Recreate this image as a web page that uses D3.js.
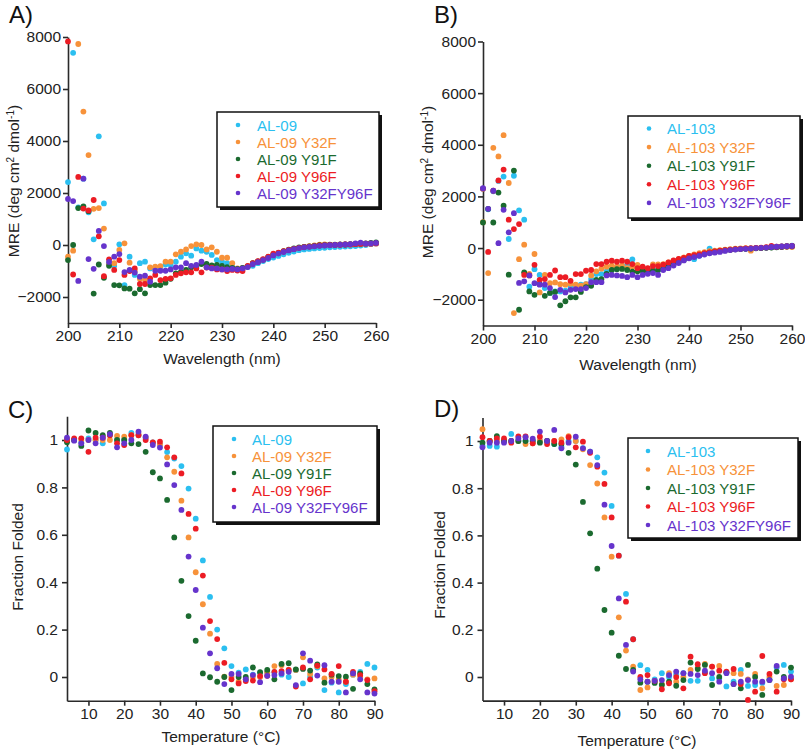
<!DOCTYPE html>
<html><head><meta charset="utf-8">
<script src="https://cdn.jsdelivr.net/npm/d3@7"></script>
<style>
html,body{margin:0;padding:0;background:#fff;}
svg{display:block;font-family:"Liberation Sans",Arial,sans-serif;}
</style></head>
<body><svg id="chart" width="805" height="751"></svg>
<script>
// ---------- DATA ----------
const wavelengths = d3.range(200, 261, 1);
const temperatures = d3.range(4, 91, 2);
const namesA = ["AL-09", "AL-09 Y32F", "AL-09 Y91F", "AL-09 Y96F", "AL-09 Y32FY96F"];
const namesB = ["AL-103", "AL-103 Y32F", "AL-103 Y91F", "AL-103 Y96F", "AL-103 Y32FY96F"];
const colors = ["#2bbff0", "#f7923a", "#1b6a2f", "#ec1c24", "#6634cc"];
const mreTicks = [-2000, 0, 2000, 4000, 6000, 8000];
const wlTicks = [200, 210, 220, 230, 240, 250, 260];
const ffTicks = [0, 0.2, 0.4, 0.6, 0.8, 1];
const tempTicks = [10, 20, 30, 40, 50, 60, 70, 80, 90];

// Panel A: CD spectra AL-09 variants (MRE)
const A_wt = [2420,7390,1450,2550,1260,220,4180,1600, -700,-800,25,-1540,-450,-1150,-700,-640,-900,-870, -850,-750,-770,-640,-450,-320,-410,-130,-220,-260, -380,-580,-640,-700,-850,-940,-900,-850,-800,-700, -620,-540,-480,-420,-360,-300,-250,-200,-170,-150, -130,-120,-110,-90,-80,-70,-60,-50,-40,-20, 0,30,60];
const A_y32f = [-450,-220,7730,5130,3460,1390,1420,630, -750,-700,-190,64,-680,-1000,-1300,-1350,-860,-830, -810,-640,-640,-360,-260,-170,-40,25,0,-170, -90,-260,-490,-490,-700,-900,-880,-820,-720,-640, -570,-480,-380,-320,-260,-200,-150,-110,-70,-40, -20,10,20,0,0,10,20,20,30,40, 40,50,60];
const A_y91f = [-580,0,1420,1480,1300,-1870,-750,-1260, -800,-1540,-1550,-1670,-1680,-1860,-1700,-1860,-1540,-1540, -1540,-1450,-1300,-1090,-1030,-960,-860,-830,-730,-730, -780,-770,-800,-850,-880,-920,-880,-820,-700,-630, -560,-470,-360,-300,-240,-180,-130,-90,-70,-50, -30,-10,0,10,10,20,20,30,40,50, 60,80,100];
const A_y96f = [7830,-1135,2620,1400,1330,1730,335,-1200, -550,-960,-580,-1150,-1000,-900,-1500,-1500,-1280,-1150, -1350,-1300,-1280,-1150,-1090,-1050,-1050,-900,-1050,-870, -870,-940,-940,-1000,-960,-980,-1000,-800,-700,-620, -540,-450,-330,-290,-240,-190,-150,-110,-80,-60, -40,-20,-10,0,0,10,20,20,30,40, 50,50,60];
const A_y32fy96f = [1770,1690,-1380,2550,-540,-915,540,-40, -650,-450,-350,-1040,-960,-1060,-1220,-1180,-1410,-990, -990,-990,-940,-860,-860,-700,-800,-770,-640,-860, -900,-900,-940,-940,-920,-940,-900,-850,-740,-660, -580,-500,-400,-330,-270,-210,-160,-120,-90,-70, -50,-30,-20,-10,0,10,20,30,60,90, 50,60,80];

// Panel B: CD spectra AL-103 variants (MRE)
const B_wt = [2300,1500,2200,2600,2770,350,2800,1460, 1100,-1500,-820,-1040,-1550,-1740,-1680,-1680,-1650,-1500, -1460,-1420,-1400,-1200,-1010,-1010,-900,-850,-750,-700, -650,-440,-700,-800,-850,-900,-850,-800,-720,-620, -520,-420,-350,-430,-300,-200,-20,-150,-120,-80, -60,-40,-30,-20,-10,0,10,20,30,40, 60,80,90];
const B_y32f = [1000,-970,3880,3550,4370,2520,-2520,-430, 130,-1000,-230,-1720,-1040,-1360,-1330,-1400,-1420,-1380, -1420,-1460,-1400,-1060,-900,-800,-720,-680,-720,-680, -780,-720,-650,-750,-800,-630,-630,-620,-560,-500, -430,-360,-300,-250,-200,-160,-120,-100,-80,-60, -40,-20,-10,0,-100,0,10,20,30,40, 50,50,40];
const B_y91f = [990,1520,990,2150,1640,-1030,3000,-2390, -940,-1680,-1810,-1400,-1850,-1740,-1700,-2220,-2060,-1910, -1910,-1700,-1510,-1460,-1230,-1200,-1000,-850,-820,-810, -850,-910,-900,-880,-900,-880,-850,-780,-700,-620, -540,-450,-380,-320,-270,-220,-180,-140,-110,-90, -70,-50,-40,-30,-20,-10,0,10,20,30, 40,60,70];
const B_y96f = [2300,-150,2220,2620,3040,1100,735,930, -1040,-1060,-650,-1230,-1200,-1040,-870,-1130,-1130,-1270, -1010,-1010,-880,-850,-620,-620,-530,-490,-530,-490, -530,-620,-780,-720,-780,-700,-700,-640,-560,-480, -420,-380,-300,-280,-250,-200,-170,-130,-100,-80, -60,-40,-30,-10,0,10,20,30,80,50, 60,70,80];
const B_y32fy96f = [2320,1520,2220,190,1480,610,1350,-1350, -1290,-1060,-1360,-1420,-1420,-1550,-1900,-1620,-1720,-1620, -1590,-1590,-1550,-1320,-1320,-1320,-1060,-1040,-1060,-1080, -1130,-1040,-1130,-1040,-1000,-970,-1040,-850,-780,-680, -580,-480,-400,-350,-300,-250,-210,-180,-150,-110, -80,-60,-40,-30,-20,0,10,20,40,50, 60,70,80];

// Panel C: thermal denaturation AL-09 variants (fraction folded)
const C_wt = [0.96,1.0,0.99,1.007,1.0,0.986,1.02,1.0,1.0,1.03, 1.02,1.01,0.99,0.98,0.949,0.922,0.89,0.795,0.668,0.492, 0.338,0.2,0.121,0.046,0.018,0.032,0.01,0.018,0.018,0.02, 0.01,0.0,0.03,-0.027,0.0,0.04,-0.055,-0.024,-0.065,-0.03, 0.01,0.022,0.055,0.04];
const C_y32f = [1.0,1.0,1.0,1.0,1.0,1.0,1.0,1.017,1.014,1.02, 1.025,1.01,0.989,0.98,0.927,0.866,0.744,0.589,0.442,0.307, 0.183,0.055,0.001,0.0,-0.02,-0.01,0.0,0.0,0.02,0.046, 0.05,0.03,0.03,0.083,0.013,0.045,-0.006,0.0,-0.01,-0.02, 0.01,0.0,-0.01,-0.006];
const C_y91f = [0.99,1.0,0.975,1.04,1.03,1.02,1.03,1.0,1.0,0.986, 0.983,0.95,0.864,0.838,0.747,0.589,0.406,0.257,0.153,0.015, -0.001,-0.02,0.0,-0.055,0.0,0.0,0.04,0.02,0.03,-0.01, 0.055,0.058,0.032,0.034,0.027,0.053,-0.024,0.01,0.004,0.001, -0.05,0.015,-0.03,-0.052];
const C_y96f = [1.0,1.007,1.007,0.95,1.01,1.01,1.02,0.986,0.979,1.02, 1.02,1.0,0.99,0.993,0.969,0.927,0.859,0.688,0.626,0.428, 0.236,0.16,0.06,-0.01,-0.027,-0.017,-0.015,0.004,0.005,0.022, 0.025,0.03,-0.04,0.04,-0.01,0.048,0.032,0.013,0.046,-0.02, 0.022,0.008,-0.013,-0.06];
const C_y32fy96f = [1.01,0.997,0.986,1.0,0.986,1.01,1.025,0.969,0.986,1.0, 1.035,1.014,0.979,0.968,0.897,0.81,0.705,0.508,0.367,0.208, 0.1,0.037,-0.03,0.013,0.013,-0.01,0.008,-0.022,0.005,0.008, 0.015,0.022,-0.034,0.1,0.069,0.006,0.05,-0.02,-0.02,-0.065, 0.015,-0.01,-0.065,-0.07];

// Panel D: thermal denaturation AL-103 variants (fraction folded)
const D_wt = [0.98,0.979,0.976,1.0,1.03,1.0,1.0,1.0,1.0,1.0, 0.987,0.975,1.0,1.0,0.97,0.955,0.931,0.866,0.725,0.514, 0.352,0.16,0.05,0.03,-0.01,0.016,0.0,0.011,0.016,-0.016, -0.016,0.02,-0.006,-0.006,-0.04,-0.02,0.03,-0.038,-0.034,-0.025, -0.01,0.04,0.051,0.023];
const D_y32f = [1.05,1.0,1.0,1.0,1.0,1.0,0.987,0.99,1.0,1.0, 1.0,1.007,1.021,1.0,0.965,0.898,0.82,0.676,0.51,0.253, 0.112,0.044,-0.055,-0.044,-0.02,-0.03,0.016,-0.02,0.0,0.03, 0.04,0.055,0.044,0.047,0.02,0.016,0.013,-0.01,0.013,-0.048, 0.0,-0.038,-0.034,-0.01];
const D_y91f = [0.993,1.0,1.021,1.0,1.0,1.0,1.0,1.0,0.993,1.0, 0.987,0.987,0.95,0.9,0.742,0.609,0.459,0.284,0.188,0.09, 0.034,0.03,-0.024,-0.02,-0.025,-0.034,-0.02,-0.037,-0.013,0.061, 0.034,0.051,-0.034,0.0,0.02,-0.03,-0.048,0.051,0.0,-0.076, -0.013,0.023,0.0,0.04];
const D_y96f = [1.016,1.0,1.011,1.011,0.993,1.02,1.02,0.99,1.018,0.987, 1.0,0.993,1.016,0.973,0.997,0.95,0.891,0.818,0.676,0.514, 0.319,0.16,0.0,0.008,-0.016,-0.052,-0.027,0.0,-0.048,0.086, 0.054,0.016,0.044,0.027,0.023,0.034,-0.03,-0.097,-0.062,0.089, 0.013,-0.062,-0.01,-0.01];
const D_y32fy96f = [0.973,0.993,0.993,0.993,1.0,1.011,1.016,1.01,1.04,1.0, 1.047,0.969,0.993,1.018,0.969,0.955,0.898,0.73,0.555,0.333, 0.136,0.023,-0.01,-0.02,-0.016,-0.013,0.008,0.023,0.016,0.013, 0.008,0.027,0.016,-0.02,0.016,-0.03,-0.02,-0.013,-0.02,-0.02, -0.013,0.047,-0.006,0.001];

// ---------- DRAW ----------
const svg = d3.select("#chart");
svg.append("rect").attr("width", 805).attr("height", 751).attr("fill", "#fff");
const AXIS = "#2a2a2a", TXT = "#222";

function mreTitle(g) {
  g.append("tspan").text("MRE (deg cm");
  g.append("tspan").attr("baseline-shift", "super").attr("font-size", "10px").text("2");
  g.append("tspan").text(" dmol");
  g.append("tspan").attr("baseline-shift", "super").attr("font-size", "10px").text("-1");
  g.append("tspan").text(")");
}

function panel(o) {
  const g = svg.append("g");
  const x = d3.scaleLinear().domain(o.xDomain).range(o.xRange);
  const y = d3.scaleLinear().domain(o.yDomain).range(o.yRange);

  const xa = g.append("g").attr("transform", `translate(0,${o.yRange[0]})`)
    .call(d3.axisBottom(x).tickValues(o.xTicks).tickSize(5).tickSizeOuter(0).tickPadding(2));
  const ya = g.append("g").attr("transform", `translate(${o.xRange[0]},0)`)
    .call(d3.axisLeft(y).tickValues(o.yTicks).tickSize(5).tickSizeOuter(0).tickPadding(o.yPad).tickFormat(o.yFormat));
  [xa, ya].forEach(a => {
    a.selectAll("path,line").attr("stroke", AXIS).attr("stroke-width", 1.6);
    a.selectAll("text").attr("fill", TXT).attr("font-size", "15.5px").attr("font-family", "Liberation Sans, Arial, sans-serif");
  });

  o.series.forEach((s, i) => {
    g.append("g").selectAll("circle").data(s).join("circle")
      .attr("cx", (d, j) => x(o.xs[j]))
      .attr("cy", d => y(d))
      .attr("r", 2.9)
      .attr("fill", colors[i]);
  });

  g.append("text").attr("x", o.letterPos[0]).attr("y", o.letterPos[1])
    .attr("font-size", "24px").attr("fill", "#111").text(o.letter);
  g.append("text").attr("x", o.xTitlePos[0]).attr("y", o.xTitlePos[1])
    .attr("text-anchor", "middle").attr("font-size", "15.5px").attr("fill", TXT).text(o.xTitle);
  const yt = g.append("text").attr("transform", `translate(${o.yTitlePos[0]},${o.yTitlePos[1]}) rotate(-90)`)
    .attr("text-anchor", "middle").attr("font-size", "15.5px").attr("fill", TXT);
  if (typeof o.yTitle === "function") o.yTitle(yt); else yt.text(o.yTitle);

  const L = o.legend;
  const lg = g.append("g");
  lg.append("rect").attr("x", L.x + 3).attr("y", L.y + 3).attr("width", L.w).attr("height", L.h).attr("fill", "#111");
  lg.append("rect").attr("x", L.x).attr("y", L.y).attr("width", L.w).attr("height", L.h)
    .attr("fill", "#fff").attr("stroke", "#111").attr("stroke-width", 1.5);
  o.names.forEach((n, i) => {
    const cy = L.row0 + i * L.step;
    lg.append("circle").attr("cx", L.dotX).attr("cy", cy).attr("r", 2.3).attr("fill", colors[i]);
    lg.append("text").attr("x", L.textX).attr("y", cy + 5.5).attr("font-size", "15px")
      .attr("fill", colors[i]).text(n);
  });
}

panel({
  xs: wavelengths, series: [A_wt, A_y32f, A_y91f, A_y96f, A_y32fy96f], names: namesA,
  xDomain: [200, 260], xRange: [68, 376], yDomain: [-3000, 8000], yRange: [323, 37],
  xTicks: wlTicks, yTicks: mreTicks, yFormat: d3.format("d"), yPad: 2,
  letter: "A)", letterPos: [9, 23], xTitle: "Wavelength (nm)", xTitlePos: [222, 364],
  yTitle: mreTitle, yTitlePos: [19, 181],
  legend: {x: 217, y: 112, w: 162, h: 95, row0: 125, step: 17, dotX: 238, textX: 257}
});
panel({
  xs: wavelengths, series: [B_wt, B_y32f, B_y91f, B_y96f, B_y32fy96f], names: namesB,
  xDomain: [200, 260], xRange: [483, 792], yDomain: [-3000, 8000], yRange: [325.5, 41.5],
  xTicks: wlTicks, yTicks: mreTicks, yFormat: d3.format("d"), yPad: 2,
  letter: "B)", letterPos: [434, 23], xTitle: "Wavelength (nm)", xTitlePos: [638, 370],
  yTitle: mreTitle, yTitlePos: [433, 182],
  legend: {x: 628, y: 116, w: 172, h: 102, row0: 128.5, step: 18.6, dotX: 649, textX: 667}
});
panel({
  xs: temperatures, series: [C_wt, C_y32f, C_y91f, C_y96f, C_y32fy96f], names: namesA,
  xDomain: [4, 90], xRange: [67, 374.5], yDomain: [-0.1, 1.1], yRange: [700.7, 416.3],
  xTicks: tempTicks, yTicks: ffTicks, yFormat: d => d3.format("")(+d.toFixed(1)), yPad: 4,
  letter: "C)", letterPos: [8, 418], xTitle: "Temperature (°C)", xTitlePos: [221, 742],
  yTitle: "Fraction Folded", yTitlePos: [23, 557],
  legend: {x: 213, y: 426, w: 164, h: 96, row0: 439, step: 17, dotX: 234, textX: 252}
});
panel({
  xs: temperatures, series: [D_wt, D_y32f, D_y91f, D_y96f, D_y32fy96f], names: namesB,
  xDomain: [4, 90], xRange: [482.5, 791], yDomain: [-0.1, 1.1], yRange: [700.6, 417.4],
  xTicks: tempTicks, yTicks: ffTicks, yFormat: d => d3.format("")(+d.toFixed(1)), yPad: 4,
  letter: "D)", letterPos: [434, 417], xTitle: "Temperature (°C)", xTitlePos: [637, 746],
  yTitle: "Fraction Folded", yTitlePos: [445, 565],
  legend: {x: 628, y: 438, w: 170, h: 100, row0: 451, step: 18.5, dotX: 648, textX: 667}
});
</script>
</body></html>
